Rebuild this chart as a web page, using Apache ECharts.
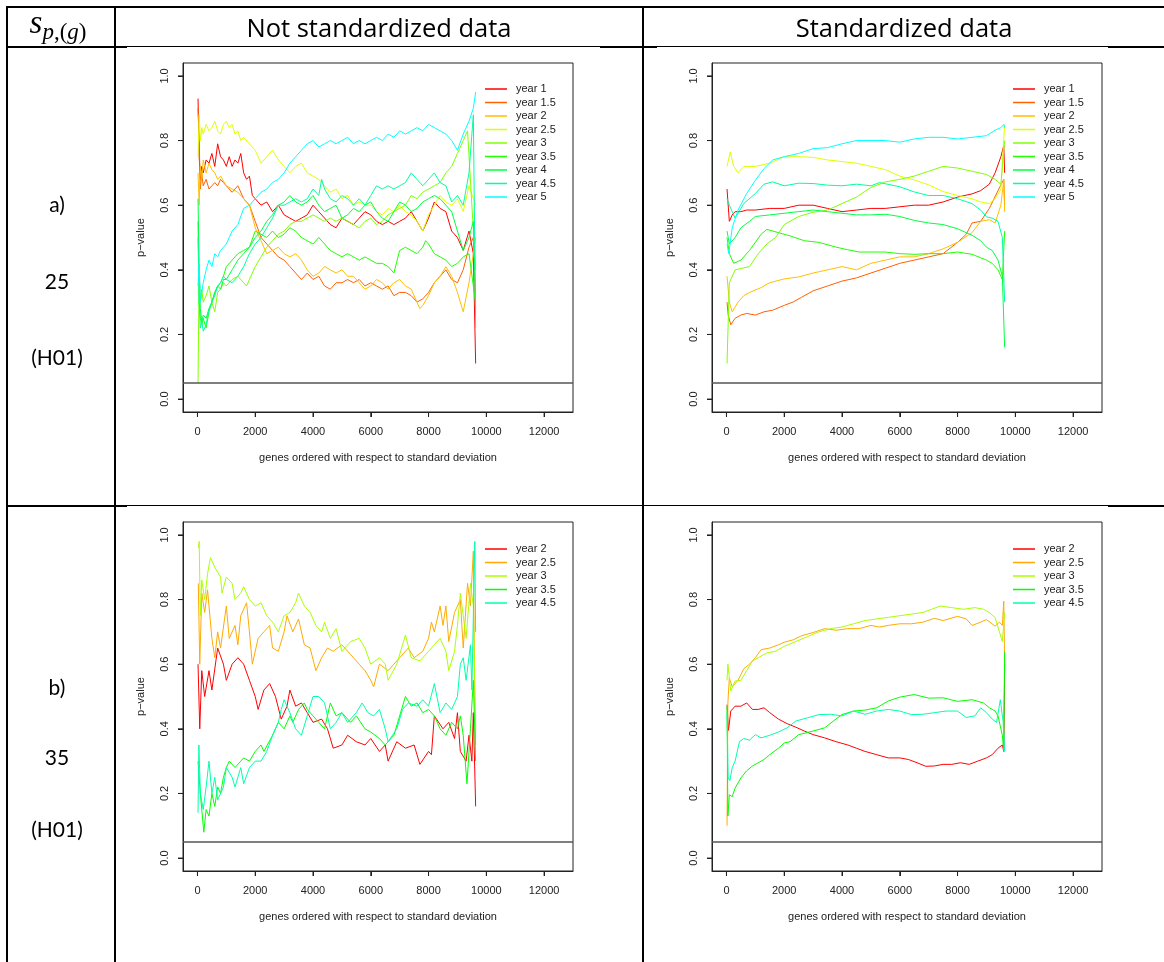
<!DOCTYPE html>
<html><head><meta charset="utf-8">
<script src="https://cdn.jsdelivr.net/npm/echarts@6/dist/echarts.min.js"></script>
<style>
html,body{margin:0;padding:0;background:#fff;}
#wrap{position:relative;width:1164px;height:962px;overflow:hidden;background:#fff;}
#chart{position:absolute;left:0;top:0;width:1164px;height:962px;}
.ln{position:absolute;background:#000;}
.txt{position:absolute;font-family:Lato,'Open Sans',sans-serif;font-size:21px;color:#000;text-align:center;line-height:30px;height:30px;white-space:nowrap;}
.hdr{font-family:'Open Sans',Lato,sans-serif;font-size:25.5px;}
.math{font-family:'Liberation Serif','DejaVu Serif',serif;font-style:italic;font-size:33px;}
.math sub{font-size:23px;font-style:normal;vertical-align:-6px;}
.math sub i{font-style:italic;}
</style></head>
<body><div id="wrap">
<div id="chart"></div>
<!-- table lines -->
<div class="ln" style="left:6px;top:6px;width:1158px;height:2px;"></div>
<div class="ln" style="left:6px;top:6px;width:2px;height:956px;"></div>
<div class="ln" style="left:114px;top:6px;width:2px;height:956px;"></div>
<div class="ln" style="left:642px;top:6px;width:2px;height:956px;"></div>
<div class="ln" style="left:6px;top:46px;width:1158px;height:1px;"></div>
<div class="ln" style="left:6px;top:46px;width:121px;height:2px;"></div>
<div class="ln" style="left:600px;top:46px;width:57px;height:2px;"></div>
<div class="ln" style="left:1108px;top:46px;width:56px;height:2px;"></div>
<div class="ln" style="left:6px;top:505px;width:1158px;height:1px;"></div>
<div class="ln" style="left:6px;top:505px;width:121px;height:2px;"></div>
<div class="ln" style="left:1108px;top:505px;width:56px;height:2px;"></div>
<!-- texts -->
<div class="txt math" style="left:8px;top:7px;width:100px;"><i>s</i><sub><i>p</i>,(<i>g</i>)</sub></div>
<div class="txt hdr" style="left:116px;top:12px;width:526px;">Not standardized data</div>
<div class="txt hdr" style="left:644px;top:12px;width:520px;">Standardized data</div>
<div class="txt" style="left:7px;top:189px;width:100px;">a)</div>
<div class="txt" style="left:7px;top:266px;width:100px;">25</div>
<div class="txt" style="left:7px;top:342px;width:100px;">(H01)</div>
<div class="txt" style="left:7px;top:672px;width:100px;">b)</div>
<div class="txt" style="left:7px;top:742px;width:100px;">35</div>
<div class="txt" style="left:7px;top:814px;width:100px;">(H01)</div>
</div>
<script>
// ---------- axis / label data ----------
const xTicks = [0, 2000, 4000, 6000, 8000, 10000, 12000];
const yTicks = [0, 0.2, 0.4, 0.6, 0.8, 1.0];
const xLabel = 'genes ordered with respect to standard deviation';
const yLabel = 'p\u2212value';
const cutoff = 0.05;

const namesA = ['year 1','year 1.5','year 2','year 2.5','year 3','year 3.5','year 4','year 4.5','year 5'];
const colorsA = ['#FF0000','#FF6000','#FFBF00','#DFFF00','#80FF00','#20FF00','#00FF40','#00FF9F','#00FFFF'];
const namesB = ['year 2','year 2.5','year 3','year 3.5','year 4.5'];
const colorsB = ['#FF0000','#FFAA00','#AAFF00','#00FF00','#00FFAA'];

// ---------- a) 25, not standardized ----------
const a1_y1 = [[20,0.93],[60,0.75],[100,0.68],[150,0.72],[200,0.7],[300,0.74],[400,0.73],[500,0.76],[600,0.72],[700,0.79],[800,0.75],[900,0.74],[1000,0.72],[1100,0.75],[1200,0.72],[1300,0.74],[1400,0.73],[1500,0.76],[1600,0.7],[1700,0.68],[1800,0.69],[1900,0.63],[2000,0.62],[2200,0.6],[2400,0.61],[2600,0.58],[2800,0.6],[3000,0.57],[3200,0.56],[3400,0.55],[3600,0.56],[3800,0.57],[4000,0.6],[4200,0.58],[4400,0.56],[4600,0.54],[4800,0.53],[5000,0.56],[5200,0.55],[5400,0.54],[5600,0.56],[5800,0.58],[6000,0.57],[6200,0.55],[6400,0.54],[6600,0.55],[6800,0.54],[7000,0.55],[7200,0.56],[7400,0.58],[7600,0.55],[7800,0.52],[8000,0.56],[8200,0.61],[8400,0.59],[8600,0.58],[8800,0.52],[9000,0.5],[9200,0.46],[9400,0.52],[9550,0.45],[9630,0.11]];
const a1_y15 = [[20,0.9],[60,0.8],[100,0.65],[150,0.7],[200,0.66],[300,0.68],[400,0.65],[500,0.66],[600,0.67],[700,0.66],[800,0.68],[900,0.67],[1000,0.66],[1200,0.64],[1400,0.66],[1600,0.62],[1800,0.6],[2000,0.55],[2200,0.5],[2400,0.48],[2600,0.46],[2800,0.44],[3000,0.43],[3200,0.41],[3400,0.39],[3600,0.37],[3800,0.39],[4000,0.37],[4200,0.38],[4400,0.35],[4600,0.34],[4800,0.36],[5000,0.36],[5200,0.37],[5400,0.36],[5600,0.37],[5800,0.35],[6000,0.36],[6200,0.35],[6400,0.34],[6600,0.35],[6800,0.32],[7000,0.33],[7200,0.33],[7400,0.32],[7600,0.3],[7800,0.31],[8000,0.33],[8200,0.36],[8400,0.38],[8600,0.4],[8800,0.37],[9000,0.36],[9200,0.4],[9400,0.47],[9550,0.5],[9630,0.28]];
const a1_y2 = [[20,0.7],[60,0.6],[100,0.72],[150,0.68],[200,0.74],[300,0.7],[400,0.73],[500,0.71],[600,0.7],[700,0.68],[800,0.69],[1000,0.66],[1200,0.65],[1400,0.64],[1600,0.62],[1800,0.6],[2000,0.53],[2200,0.49],[2400,0.45],[2600,0.46],[2800,0.47],[3000,0.45],[3200,0.44],[3400,0.45],[3600,0.43],[3800,0.4],[4000,0.38],[4200,0.39],[4400,0.41],[4600,0.4],[4800,0.39],[5000,0.4],[5200,0.38],[5400,0.38],[5600,0.36],[5800,0.34],[6000,0.35],[6200,0.37],[6400,0.36],[6600,0.34],[6800,0.36],[7000,0.37],[7200,0.35],[7400,0.34],[7600,0.3],[7700,0.28],[7800,0.29],[8000,0.32],[8200,0.36],[8400,0.38],[8600,0.41],[8800,0.38],[9000,0.33],[9200,0.27],[9400,0.36],[9550,0.45],[9630,0.5]];
const a1_y25 = [[20,0.75],[60,0.88],[100,0.8],[150,0.84],[200,0.82],[300,0.85],[400,0.83],[500,0.84],[600,0.86],[700,0.83],[800,0.82],[900,0.85],[1000,0.86],[1100,0.84],[1200,0.85],[1300,0.82],[1400,0.83],[1500,0.8],[1600,0.81],[1800,0.79],[2000,0.77],[2200,0.73],[2400,0.75],[2600,0.77],[2800,0.74],[3000,0.72],[3200,0.7],[3400,0.72],[3600,0.73],[3800,0.7],[4000,0.69],[4200,0.68],[4400,0.66],[4600,0.64],[4800,0.65],[5000,0.62],[5200,0.63],[5400,0.6],[5600,0.61],[5800,0.6],[6000,0.6],[6200,0.58],[6400,0.57],[6600,0.59],[6800,0.58],[7000,0.6],[7200,0.58],[7400,0.57],[7600,0.55],[7800,0.52],[8000,0.57],[8200,0.6],[8400,0.63],[8600,0.61],[8800,0.6],[9000,0.62],[9200,0.58],[9400,0.66],[9550,0.62],[9630,0.6]];
const a1_y3 = [[20,0.05],[60,0.4],[100,0.3],[150,0.34],[200,0.3],[300,0.32],[400,0.35],[500,0.3],[600,0.27],[700,0.33],[800,0.34],[900,0.36],[1000,0.35],[1200,0.37],[1400,0.38],[1600,0.36],[1700,0.35],[1800,0.37],[2000,0.41],[2200,0.44],[2400,0.47],[2600,0.49],[2800,0.51],[3000,0.52],[3200,0.54],[3400,0.55],[3600,0.55],[3800,0.56],[4000,0.57],[4200,0.56],[4400,0.55],[4600,0.56],[4800,0.55],[5000,0.56],[5200,0.55],[5400,0.54],[5600,0.53],[5800,0.55],[6000,0.56],[6200,0.54],[6400,0.55],[6600,0.57],[6800,0.58],[7000,0.59],[7200,0.6],[7400,0.63],[7600,0.62],[7800,0.64],[8000,0.65],[8200,0.66],[8400,0.67],[8600,0.7],[8800,0.72],[9000,0.76],[9200,0.8],[9350,0.83],[9500,0.6],[9630,0.4]];
const a1_y35 = [[20,0.55],[60,0.3],[100,0.25],[150,0.23],[200,0.25],[300,0.22],[400,0.27],[500,0.3],[600,0.33],[700,0.35],[800,0.36],[900,0.38],[1000,0.41],[1200,0.43],[1400,0.45],[1600,0.46],[1800,0.47],[2000,0.52],[2200,0.51],[2400,0.5],[2600,0.52],[2800,0.5],[3000,0.51],[3200,0.53],[3400,0.52],[3600,0.5],[3800,0.49],[4000,0.48],[4200,0.5],[4400,0.48],[4600,0.46],[4800,0.45],[5000,0.44],[5200,0.45],[5400,0.44],[5600,0.43],[5800,0.44],[6000,0.43],[6200,0.42],[6400,0.42],[6600,0.41],[6800,0.39],[7000,0.46],[7200,0.47],[7400,0.46],[7600,0.45],[7800,0.47],[7900,0.49],[8000,0.48],[8200,0.45],[8400,0.44],[8600,0.43],[8800,0.41],[9000,0.42],[9200,0.44],[9400,0.45],[9550,0.35],[9630,0.3]];
const a1_y4 = [[20,0.62],[60,0.4],[100,0.28],[150,0.24],[200,0.26],[300,0.25],[400,0.28],[500,0.3],[600,0.33],[700,0.35],[800,0.34],[900,0.37],[1000,0.37],[1200,0.4],[1400,0.43],[1600,0.45],[1800,0.47],[2000,0.5],[2200,0.52],[2400,0.55],[2600,0.57],[2800,0.6],[3000,0.61],[3200,0.63],[3400,0.61],[3600,0.6],[3800,0.61],[4000,0.63],[4200,0.6],[4400,0.58],[4600,0.59],[4800,0.6],[5000,0.56],[5200,0.57],[5400,0.59],[5600,0.58],[5800,0.6],[6000,0.61],[6200,0.58],[6400,0.56],[6600,0.55],[6800,0.58],[7000,0.61],[7200,0.6],[7400,0.58],[7600,0.59],[7800,0.61],[8000,0.62],[8200,0.63],[8400,0.62],[8600,0.6],[8800,0.58],[9000,0.52],[9200,0.46],[9400,0.5],[9550,0.55],[9630,0.3]];
const a1_y45 = [[20,0.5],[60,0.3],[100,0.22],[150,0.24],[200,0.21],[300,0.23],[400,0.28],[500,0.3],[600,0.32],[700,0.35],[800,0.36],[900,0.38],[1000,0.37],[1200,0.36],[1400,0.38],[1600,0.41],[1800,0.45],[2000,0.48],[2200,0.5],[2400,0.53],[2600,0.56],[2800,0.6],[3000,0.6],[3200,0.61],[3400,0.62],[3600,0.61],[3800,0.62],[4000,0.65],[4200,0.63],[4300,0.68],[4400,0.65],[4600,0.62],[4800,0.61],[5000,0.63],[5200,0.62],[5400,0.6],[5600,0.62],[5800,0.6],[6000,0.63],[6200,0.66],[6400,0.65],[6600,0.66],[6800,0.65],[7000,0.66],[7200,0.67],[7400,0.7],[7600,0.68],[7800,0.66],[8000,0.68],[8200,0.7],[8400,0.67],[8600,0.66],[8800,0.61],[9000,0.63],[9200,0.6],[9400,0.7],[9550,0.88],[9630,0.22]];
const a1_y5 = [[20,0.35],[60,0.42],[100,0.3],[150,0.33],[200,0.36],[300,0.4],[400,0.43],[500,0.41],[600,0.45],[700,0.44],[800,0.46],[900,0.47],[1000,0.48],[1100,0.5],[1200,0.52],[1400,0.54],[1600,0.59],[1800,0.6],[2000,0.62],[2200,0.64],[2400,0.65],[2600,0.67],[2800,0.68],[3000,0.7],[3200,0.73],[3400,0.75],[3600,0.77],[3800,0.79],[4000,0.8],[4200,0.78],[4400,0.79],[4600,0.8],[4800,0.79],[5000,0.8],[5200,0.81],[5400,0.79],[5600,0.8],[5800,0.79],[6000,0.8],[6200,0.81],[6400,0.8],[6600,0.82],[6800,0.81],[7000,0.83],[7200,0.82],[7400,0.83],[7600,0.84],[7800,0.83],[8000,0.85],[8200,0.84],[8400,0.83],[8600,0.82],[8800,0.8],[9000,0.77],[9200,0.82],[9400,0.86],[9550,0.9],[9630,0.95]];

// ---------- a) 25, standardized ----------
const a2_y1 = [[20,0.65],[100,0.55],[200,0.57],[300,0.58],[500,0.58],[700,0.585],[1000,0.585],[1500,0.59],[2000,0.59],[2500,0.6],[3000,0.6],[3500,0.59],[4000,0.58],[4500,0.585],[5000,0.59],[5500,0.59],[6000,0.595],[6500,0.6],[7000,0.6],[7500,0.61],[8000,0.625],[8500,0.635],[8800,0.645],[9100,0.665],[9300,0.7],[9500,0.75],[9600,0.785],[9630,0.7]];
const a2_y15 = [[20,0.3],[60,0.26],[150,0.23],[300,0.25],[500,0.26],[700,0.265],[1000,0.26],[1300,0.27],[1600,0.275],[2000,0.29],[2300,0.3],[2600,0.315],[3000,0.335],[3500,0.35],[4000,0.365],[4500,0.375],[5000,0.39],[5500,0.405],[6000,0.42],[6500,0.43],[7000,0.44],[7500,0.45],[8000,0.485],[8300,0.51],[8500,0.545],[8800,0.55],[9100,0.59],[9400,0.645],[9600,0.68],[9630,0.6]];
const a2_y2 = [[20,0.38],[100,0.3],[200,0.27],[400,0.3],[600,0.32],[800,0.33],[1200,0.345],[1500,0.36],[2000,0.372],[2500,0.378],[3000,0.39],[3500,0.4],[4000,0.41],[4500,0.4],[5000,0.42],[5500,0.43],[6000,0.44],[6500,0.44],[7000,0.45],[7500,0.465],[8000,0.485],[8500,0.515],[8800,0.55],[9100,0.555],[9300,0.545],[9500,0.6],[9600,0.68],[9630,0.58]];
const a2_y25 = [[20,0.72],[130,0.765],[250,0.72],[400,0.7],[600,0.72],[1000,0.72],[1500,0.73],[2000,0.75],[2500,0.75],[3000,0.748],[3500,0.74],[4000,0.735],[4500,0.73],[5000,0.72],[5500,0.71],[6000,0.69],[6500,0.678],[7000,0.663],[7500,0.642],[8000,0.63],[8500,0.62],[8800,0.61],[9100,0.605],[9300,0.62],[9500,0.65],[9630,0.85]];
const a2_y3 = [[20,0.11],[100,0.36],[300,0.4],[800,0.41],[1100,0.45],[1400,0.48],[1700,0.5],[2000,0.54],[2500,0.565],[3000,0.578],[3500,0.585],[4000,0.605],[4500,0.625],[5000,0.655],[5500,0.672],[6000,0.68],[6500,0.69],[7000,0.705],[7500,0.72],[8000,0.715],[8500,0.705],[9000,0.695],[9300,0.68],[9500,0.665],[9630,0.8]];
const a2_y35 = [[20,0.5],[100,0.45],[250,0.42],[500,0.43],[800,0.46],[1200,0.51],[1400,0.525],[1800,0.515],[2200,0.505],[2700,0.49],[3200,0.485],[3800,0.47],[4200,0.462],[4600,0.455],[5000,0.455],[5500,0.455],[6000,0.45],[6500,0.448],[7000,0.45],[7500,0.45],[8000,0.455],[8500,0.448],[9000,0.43],[9200,0.42],[9400,0.4],[9550,0.37],[9630,0.52]];
const a2_y4 = [[20,0.52],[100,0.48],[300,0.5],[500,0.53],[800,0.55],[1000,0.565],[1500,0.57],[2000,0.575],[2500,0.58],[3000,0.585],[3500,0.58],[4000,0.575],[4500,0.57],[5000,0.57],[5500,0.572],[6000,0.565],[6500,0.553],[7000,0.545],[7500,0.54],[8000,0.527],[8500,0.507],[8800,0.49],[9000,0.47],[9200,0.46],[9400,0.43],[9550,0.38],[9630,0.16]];
const a2_y45 = [[20,0.62],[100,0.6],[300,0.56],[600,0.605],[1000,0.636],[1300,0.665],[1600,0.672],[2000,0.66],[2500,0.668],[3000,0.667],[3500,0.662],[4000,0.66],[4500,0.665],[5000,0.66],[5300,0.67],[6000,0.657],[6500,0.641],[7000,0.63],[7500,0.63],[8000,0.62],[8500,0.605],[8800,0.585],[9000,0.564],[9200,0.56],[9400,0.55],[9550,0.5],[9630,0.3]];
const a2_y5 = [[20,0.48],[80,0.45],[200,0.53],[400,0.585],[700,0.636],[1000,0.677],[1300,0.713],[1600,0.74],[2000,0.75],[2500,0.76],[3000,0.775],[3500,0.778],[4000,0.79],[4500,0.8],[5000,0.8],[5500,0.8],[6000,0.795],[6500,0.805],[7000,0.81],[7500,0.81],[8000,0.805],[8500,0.81],[9000,0.815],[9300,0.832],[9500,0.84],[9600,0.85],[9630,0.84]];

// ---------- b) 35, not standardized ----------
const b1_y2 = [[20,0.6],[80,0.4],[150,0.58],[250,0.5],[400,0.58],[500,0.52],[700,0.65],[900,0.6],[1000,0.55],[1200,0.6],[1400,0.62],[1600,0.6],[1800,0.55],[2000,0.5],[2100,0.46],[2300,0.52],[2500,0.54],[2700,0.5],[2900,0.43],[3100,0.47],[3200,0.52],[3400,0.47],[3600,0.48],[3800,0.45],[4000,0.42],[4300,0.43],[4500,0.4],[4700,0.34],[5000,0.35],[5200,0.38],[5500,0.36],[5800,0.35],[6000,0.37],[6300,0.33],[6500,0.35],[6600,0.3],[6900,0.36],[7200,0.34],[7500,0.35],[7700,0.29],[8000,0.33],[8100,0.32],[8200,0.44],[8500,0.4],[8700,0.42],[8900,0.37],[9000,0.45],[9100,0.33],[9300,0.3],[9400,0.38],[9500,0.3],[9550,0.45],[9630,0.16]];
const b1_y25 = [[30,0.85],[80,0.6],[150,0.82],[250,0.76],[350,0.83],[500,0.68],[600,0.62],[700,0.7],[800,0.65],[1000,0.78],[1100,0.68],[1300,0.72],[1400,0.66],[1500,0.75],[1700,0.79],[1800,0.7],[1900,0.6],[2100,0.68],[2300,0.7],[2500,0.72],[2600,0.65],[2800,0.64],[3000,0.7],[3100,0.75],[3300,0.7],[3500,0.74],[3700,0.66],[3900,0.65],[4100,0.58],[4300,0.62],[4500,0.65],[4700,0.64],[5000,0.66],[5300,0.63],[5600,0.6],[5800,0.58],[6000,0.55],[6100,0.53],[6300,0.6],[6600,0.58],[6800,0.6],[7000,0.62],[7300,0.65],[7500,0.62],[7800,0.64],[8000,0.68],[8100,0.73],[8200,0.7],[8400,0.78],[8500,0.72],[8600,0.78],[8700,0.67],[8900,0.76],[9100,0.8],[9200,0.65],[9350,0.85],[9450,0.78],[9550,0.95],[9600,0.5],[9630,0.35]];
const b1_y3 = [[30,0.96],[60,0.98],[100,0.75],[150,0.86],[250,0.8],[350,0.88],[450,0.93],[600,0.9],[800,0.87],[850,0.82],[1000,0.87],[1200,0.85],[1300,0.8],[1500,0.82],[1600,0.84],[1800,0.8],[2000,0.78],[2200,0.79],[2400,0.75],[2600,0.73],[2800,0.7],[3000,0.75],[3200,0.76],[3400,0.79],[3500,0.82],[3700,0.78],[3900,0.76],[4100,0.72],[4300,0.7],[4400,0.73],[4600,0.68],[4800,0.71],[5000,0.64],[5300,0.67],[5600,0.68],[5800,0.65],[6000,0.6],[6300,0.62],[6500,0.6],[6600,0.55],[6900,0.6],[7100,0.66],[7200,0.69],[7400,0.62],[7700,0.61],[8000,0.64],[8200,0.66],[8400,0.68],[8600,0.64],[8700,0.58],[8900,0.64],[9000,0.72],[9100,0.82],[9200,0.75],[9300,0.68],[9450,0.85],[9550,0.78],[9630,0.4]];
const b1_y35 = [[20,0.3],[100,0.2],[150,0.15],[220,0.08],[300,0.15],[400,0.13],[500,0.2],[600,0.16],[700,0.22],[800,0.2],[900,0.25],[1000,0.28],[1100,0.3],[1300,0.28],[1500,0.3],[1600,0.31],[1800,0.3],[2000,0.33],[2200,0.35],[2300,0.33],[2600,0.38],[2800,0.42],[3000,0.4],[3200,0.44],[3300,0.42],[3500,0.46],[3700,0.48],[3800,0.46],[4000,0.44],[4200,0.42],[4400,0.4],[4600,0.48],[4800,0.44],[5000,0.45],[5300,0.42],[5500,0.44],[5800,0.4],[6000,0.39],[6300,0.37],[6500,0.35],[6800,0.38],[7000,0.44],[7200,0.5],[7400,0.47],[7600,0.48],[7800,0.45],[8000,0.46],[8200,0.44],[8400,0.4],[8600,0.38],[8800,0.42],[9000,0.4],[9100,0.44],[9200,0.38],[9330,0.23],[9450,0.4],[9550,0.55],[9630,0.3]];
const b1_y45 = [[20,0.14],[50,0.35],[100,0.2],[200,0.15],[300,0.22],[400,0.3],[500,0.2],[600,0.25],[700,0.18],[900,0.22],[1000,0.28],[1200,0.25],[1300,0.22],[1500,0.28],[1600,0.23],[1800,0.28],[2000,0.3],[2200,0.3],[2400,0.33],[2600,0.38],[2800,0.42],[2900,0.46],[3000,0.49],[3200,0.45],[3400,0.4],[3600,0.38],[3800,0.44],[4000,0.5],[4200,0.5],[4400,0.48],[4600,0.4],[4800,0.42],[5000,0.45],[5200,0.42],[5500,0.45],[5700,0.48],[5900,0.45],[6100,0.44],[6300,0.46],[6500,0.4],[6600,0.36],[6900,0.4],[7100,0.46],[7300,0.48],[7600,0.47],[7800,0.49],[8000,0.47],[8200,0.54],[8400,0.45],[8600,0.48],[8800,0.46],[9000,0.5],[9100,0.6],[9200,0.62],[9300,0.55],[9450,0.66],[9500,0.52],[9600,0.98],[9630,0.7]];

// ---------- b) 35, standardized ----------
const b2_y2 = [[20,0.475],[70,0.395],[150,0.455],[200,0.45],[300,0.47],[500,0.47],[700,0.48],[900,0.46],[1100,0.46],[1300,0.465],[1500,0.45],[1800,0.43],[2100,0.416],[2400,0.405],[2700,0.393],[3000,0.382],[3400,0.372],[3800,0.36],[4200,0.35],[4500,0.34],[4800,0.33],[5200,0.32],[5600,0.31],[6000,0.31],[6300,0.305],[6600,0.295],[6900,0.284],[7200,0.285],[7500,0.29],[7800,0.29],[8100,0.295],[8400,0.29],[8700,0.3],[9000,0.31],[9200,0.32],[9400,0.34],[9550,0.35],[9600,0.33],[9630,0.6]];
const b2_y25 = [[20,0.1],[50,0.48],[100,0.558],[200,0.53],[400,0.55],[600,0.586],[800,0.6],[1000,0.62],[1200,0.645],[1500,0.65],[1800,0.66],[2000,0.668],[2300,0.675],[2600,0.688],[3000,0.698],[3400,0.71],[3800,0.705],[4200,0.71],[4600,0.71],[5000,0.72],[5300,0.715],[5600,0.72],[6000,0.725],[6400,0.725],[6800,0.73],[7200,0.742],[7500,0.735],[8000,0.748],[8300,0.74],[8500,0.72],[8800,0.73],[9000,0.738],[9300,0.718],[9450,0.73],[9550,0.72],[9600,0.795],[9630,0.6]];
const b2_y3 = [[20,0.55],[50,0.6],[150,0.517],[300,0.548],[500,0.55],[700,0.58],[900,0.61],[1100,0.62],[1400,0.635],[1700,0.64],[2000,0.655],[2400,0.67],[2800,0.685],[3200,0.7],[3600,0.71],[4000,0.715],[4400,0.725],[4800,0.735],[5200,0.74],[5600,0.745],[6000,0.75],[6400,0.755],[6800,0.76],[7100,0.77],[7400,0.78],[7800,0.775],[8200,0.77],[8600,0.775],[8900,0.77],[9100,0.76],[9300,0.744],[9450,0.7],[9550,0.67],[9630,0.76]];
const b2_y35 = [[20,0.47],[50,0.13],[100,0.196],[200,0.19],[300,0.217],[500,0.248],[700,0.27],[900,0.285],[1100,0.295],[1300,0.305],[1500,0.32],[1800,0.34],[2000,0.356],[2200,0.36],[2500,0.382],[3000,0.393],[3400,0.403],[3700,0.424],[4000,0.444],[4400,0.455],[4800,0.458],[5200,0.465],[5600,0.486],[6000,0.498],[6500,0.506],[7000,0.495],[7500,0.496],[8000,0.485],[8500,0.49],[8900,0.48],[9100,0.465],[9300,0.455],[9400,0.44],[9550,0.38],[9600,0.33],[9630,0.64]];
const b2_y45 = [[20,0.45],[60,0.248],[120,0.24],[200,0.28],[300,0.3],[450,0.36],[600,0.37],[800,0.365],[1000,0.382],[1200,0.372],[1500,0.38],[1800,0.39],[2100,0.403],[2400,0.424],[2800,0.434],[3200,0.444],[3600,0.445],[4000,0.44],[4400,0.455],[4800,0.445],[5200,0.455],[5600,0.46],[6000,0.455],[6400,0.444],[6800,0.445],[7200,0.45],[7600,0.455],[8000,0.455],[8300,0.435],[8600,0.44],[8800,0.465],[9000,0.45],[9200,0.43],[9350,0.42],[9480,0.49],[9580,0.42],[9630,0.33]];

// ---------- panel assembly ----------
const panels = [
  {key:'a1', names:namesA, colors:colorsA, data:[a1_y1,a1_y15,a1_y2,a1_y25,a1_y3,a1_y35,a1_y4,a1_y45,a1_y5], gl:183, gt:63, ll:485, lt:83},
  {key:'a2', names:namesA, colors:colorsA, data:[a2_y1,a2_y15,a2_y2,a2_y25,a2_y3,a2_y35,a2_y4,a2_y45,a2_y5], gl:712, gt:63, ll:1013, lt:83},
  {key:'b1', names:namesB, colors:colorsB, data:[b1_y2,b1_y25,b1_y3,b1_y35,b1_y45], gl:183, gt:522, ll:485, lt:543},
  {key:'b2', names:namesB, colors:colorsB, data:[b2_y2,b2_y25,b2_y3,b2_y35,b2_y45], gl:712, gt:522, ll:1013, lt:543}
];

const X_MIN = -500, X_MAX = 13000, Y_MIN = -0.04, Y_MAX = 1.04;
const FONT = 'Liberation Sans, Arial, sans-serif';
const TXT = '#222';
const TICK_LEN = 5;
const grids = [], xAxes = [], yAxes = [], series = [], legends = [];
panels.forEach((p, i) => {
  grids.push({left:p.gl, top:p.gt, width:390, height:349, show:true, borderColor:'#222', borderWidth:1, backgroundColor:'transparent'});
  xAxes.push({
    type:'value', gridIndex:i, min:X_MIN, max:X_MAX,
    axisLine:{show:true, onZero:false, lineStyle:{color:'#222', width:1}}, splitLine:{show:false},
    axisTick:{show:true, inside:false, customValues:xTicks, length:TICK_LEN, lineStyle:{color:'#222', width:1}},
    axisLabel:{customValues:xTicks, formatter:v => String(v), fontSize:11, color:TXT, margin:14, fontFamily:FONT},
    name:xLabel, nameLocation:'middle', nameGap:40,
    nameTextStyle:{fontSize:11, color:TXT, fontFamily:FONT}
  });
  yAxes.push({
    type:'value', gridIndex:i, min:Y_MIN, max:Y_MAX,
    axisLine:{show:true, onZero:false, lineStyle:{color:'#222', width:1}}, splitLine:{show:false},
    axisTick:{show:true, inside:false, customValues:yTicks, length:TICK_LEN, lineStyle:{color:'#222', width:1}},
    axisLabel:{customValues:yTicks, formatter:v => v.toFixed(1), rotate:90, fontSize:11, color:TXT, margin:13, fontFamily:FONT},
    name:yLabel, nameLocation:'middle', nameGap:37, nameRotate:90,
    nameTextStyle:{fontSize:11, color:TXT, fontFamily:FONT}
  });
  p.data.forEach((d, j) => {
    series.push({
      type:'line', name:p.key + '|' + p.names[j], xAxisIndex:i, yAxisIndex:i, data:d,
      symbol:'none', silent:true, animation:false,
      lineStyle:{width:1, color:p.colors[j]}, itemStyle:{color:p.colors[j]}
    });
  });
  series.push({
    type:'line', name:'cut' + i, xAxisIndex:i, yAxisIndex:i,
    data:[[X_MIN, cutoff], [X_MAX, cutoff]], symbol:'none', silent:true, animation:false,
    lineStyle:{width:1.5, color:'#555'}
  });
  // R-style outward tick marks, placed through the axis scales
  series.push({
    type:'custom', name:'xt' + i, xAxisIndex:i, yAxisIndex:i, silent:true, animation:false, clip:false,
    data:xTicks.map(v => [v, Y_MIN]),
    renderItem:(params, api) => {
      const pt = api.coord([api.value(0), api.value(1)]);
      return {type:'line', shape:{x1:pt[0], y1:pt[1], x2:pt[0], y2:pt[1] + TICK_LEN}, style:{stroke:'#222', lineWidth:1}};
    }
  });
  series.push({
    type:'custom', name:'yt' + i, xAxisIndex:i, yAxisIndex:i, silent:true, animation:false, clip:false,
    data:yTicks.map(v => [X_MIN, v]),
    renderItem:(params, api) => {
      const pt = api.coord([api.value(0), api.value(1)]);
      return {type:'line', shape:{x1:pt[0] - TICK_LEN, y1:pt[1], x2:pt[0], y2:pt[1]}, style:{stroke:'#222', lineWidth:1}};
    }
  });
  legends.push({
    data:p.names.map(n => p.key + '|' + n), formatter:n => n.split('|')[1],
    left:p.ll, top:p.lt, orient:'vertical', icon:'rect', itemWidth:22, itemHeight:1.5, itemGap:1.5,
    selectedMode:false, padding:0,
    textStyle:{fontSize:11, color:TXT, lineHeight:12, fontFamily:FONT, padding:[0,0,0,4]}
  });
});

const chart = echarts.init(document.getElementById('chart'), null, {renderer:'canvas'});
chart.setOption({animation:false, grid:grids, xAxis:xAxes, yAxis:yAxes, series:series, legend:legends});
</script>
</body></html>
